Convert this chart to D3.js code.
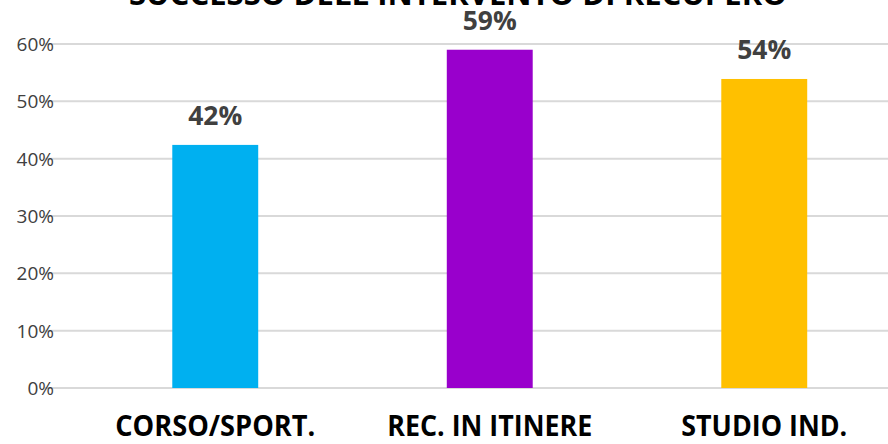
<!DOCTYPE html>
<html><head><meta charset="utf-8">
<script src="https://cdn.jsdelivr.net/npm/d3@7"></script>
<style>body{margin:0;background:#fff}svg{display:block}</style>
</head><body>
<svg id="chart" width="888" height="444"></svg>
<script>
const title = "SUCCESSO DELL'INTERVENTO DI RECUPERO";
const categories = ["CORSO/SPORT.", "REC. IN ITINERE", "STUDIO IND."];
const values = [0.424, 0.59, 0.539];
const valueLabels = ["42%", "59%", "54%"];
const colors = ["#00B0F0", "#9900CC", "#FFC000"];
const yTicks = [0, 0.1, 0.2, 0.3, 0.4, 0.5, 0.6];

const svg = d3.select("#chart");
const plotLeft = 45, plotRight = 888;
const y = d3.scaleLinear().domain([0, 0.6]).range([388, 44]);
const x = d3.scaleBand().domain(categories).range([78, 901.5]).paddingInner(0.687).paddingOuter(0.3435);

// gridlines
svg.append("g").selectAll("line").data(yTicks).join("line")
  .attr("x1", plotLeft).attr("x2", plotRight)
  .attr("y1", d => y(d)).attr("y2", d => y(d))
  .attr("stroke", "#d9d9d9").attr("stroke-width", 2);

// y axis labels
const yAxis = d3.axisLeft(y).tickValues(yTicks).tickFormat(d3.format(".0%")).tickSize(0).tickPadding(0);
const ya = svg.append("g").attr("transform", "translate(54,0)").call(yAxis);
ya.select(".domain").remove();
ya.selectAll("text").attr("font-family", "Open Sans, sans-serif").attr("font-size", 19)
  .attr("fill", "#404040").attr("dy", "0.35em");

// bars
svg.append("g").selectAll("rect").data(values).join("rect")
  .attr("x", (d, i) => x(categories[i]))
  .attr("width", x.bandwidth())
  .attr("y", d => y(d))
  .attr("height", d => y(0) - y(d))
  .attr("fill", (d, i) => colors[i]);

// value labels
svg.append("g").selectAll("text").data(values).join("text")
  .attr("x", (d, i) => x(categories[i]) + x.bandwidth() / 2)
  .attr("y", d => y(d) - 20)
  .attr("text-anchor", "middle")
  .attr("font-family", "Open Sans, sans-serif").attr("font-weight", "bold")
  .attr("font-size", 27).attr("fill", "#404040")
  .attr("textLength", 54).attr("lengthAdjust", "spacingAndGlyphs")
  .text((d, i) => valueLabels[i]);

// category axis labels
const xAxis = d3.axisBottom(x).tickSize(0).tickPadding(0);
const xa = svg.append("g").attr("transform", "translate(0,436)").call(xAxis);
xa.select(".domain").remove();
xa.selectAll("text").attr("dy", 0)
  .attr("font-family", "Open Sans, sans-serif").attr("font-weight", "bold")
  .attr("font-size", 28).attr("fill", "#000")
  .attr("textLength", (d, i) => [200, 205, 166][i]).attr("lengthAdjust", "spacingAndGlyphs");

// title
svg.append("text").attr("x", 458).attr("y", 5).attr("text-anchor", "middle")
  .attr("font-family", "Open Sans, sans-serif").attr("font-weight", "bold")
  .attr("font-size", 30).attr("fill", "#000")
  .attr("textLength", 658).attr("lengthAdjust", "spacingAndGlyphs")
  .text(title);
</script>
</body></html>
